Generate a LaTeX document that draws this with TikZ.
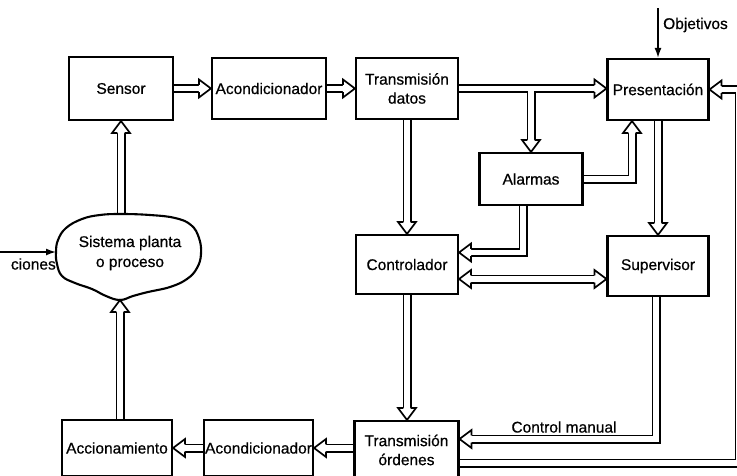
\documentclass[tikz,border=0pt]{standalone}
\usepackage{fontspec}
\setmainfont{Liberation Sans}[FakeBold=0.6]
\usetikzlibrary{arrows.meta,calc}
\pgfdeclarelayer{bg}
\pgfsetlayers{bg,main}
\newcommand\allpipes{%
 \draw[pp,shorten >=8pt] (sensor.east) -- (acA.west);
 \draw[pp,shorten >=8pt] (acA.east) -- (tdat.west);
 \draw[pp,shorten >=8pt] (tdat.east) -- (tdat.east -| pres.west);
 \draw[pp,shorten >=8pt] (alar.north |- tdat.east) -- (alar.north);
 \draw[pp,shorten >=8pt] (alar.east) -| ($(pres.south)+(-26,0)$);
 \draw[pp,shorten >=8pt] (pres.south) -- (pres.south |- sup.north);
 \draw[pp,shorten >=8pt] (tdat.south) -- (ctrl.north);
 \draw[pp,shorten >=8pt] ($(alar.south)+(-8,0)$) |- ($(ctrl.east)+(0,-12)$);
 \draw[pp,shorten >=8pt,shorten <=8pt] ($(ctrl.east)+(0,14.5)$) -- ($(sup.west |- ctrl.east)+(0,14.5)$);
 \draw[pp,shorten >=8pt] (ctrl.south) -- (ctrl.south |- tord.north);
 \draw[pp,shorten >=8pt] ($(sup.south)+(-2,0)$) |- ($(tord.east)+(0,-11)$);
 \draw[pp,shorten >=8pt] ($(tord.east)+(0,13)$) -| ($(pres.east)+(29.5,0)$) -- (pres.east);
 \draw[pp,shorten >=8pt] (tord.west |- acB.east) -- (acB.east);
 \draw[pp,shorten >=8pt] (acB.west) -- (acc.east);
 \draw[pp,shorten >=8pt] ($(acc.north)+(3,0)$) -- (cloudS);
 \draw[pp,shorten >=8pt] (cloudN) -- (sensor.south);
}
\begin{document}
\begin{tikzpicture}[x=1pt,y=-1pt,
  box/.style={draw,line width=2.1pt,inner sep=0pt,align=center,font=\fontsize{15.5}{19}\selectfont},
  lbl/.style={inner sep=0pt,font=\fontsize{15.5}{18}\selectfont},
  sig/.style={line width=1.6pt,-{Latex[length=10pt,width=7pt]}},
  hd/.pic={\fill[white] (-12,-9) -- (0,0) -- (-12,9) -- cycle;
           \draw[line width=1.7pt,line join=miter] (-12,-3.6) -- (-12,-9) -- (0,0) -- (-12,9) -- (-12,3.6);}
]
\useasboundingbox (0,0) rectangle (737,475);
\clip (0,0) rectangle (737,475);

% boxes
\node[box,minimum width=104pt,minimum height=63pt] (sensor) at (121,88.5) {Sensor};
\node[box,minimum width=114pt,minimum height=61pt] (acA) at (269,88.5) {Acondicionador};
\node[box,minimum width=102pt,minimum height=61pt] (tdat) at (407,88.5) {Transmisión\\datos};
\node[box,minimum width=101pt,minimum height=61pt] (pres) at (658,89.5) {Presentación};
\node[box,minimum width=103pt,minimum height=52pt] (alar) at (531,179) {Alarmas};
\node[box,minimum width=102pt,minimum height=59pt] (ctrl) at (407,264.5) {Controlador};
\node[box,minimum width=101pt,minimum height=60pt] (sup) at (658,266) {Supervisor};
\node[box,minimum width=104pt,minimum height=58pt] (tord) at (406.5,450) {Transmisión\\órdenes};
\node[box,minimum width=109pt,minimum height=56pt] (acB) at (258.5,448) {Acondicionador};
\node[box,minimum width=110pt,minimum height=56pt] (acc) at (117,448) {Accionamiento};

% cloud
\coordinate (cloudN) at (121,214);
\coordinate (cloudS) at (120,300);
\coordinate (cloudW) at (56,252);
\draw[line width=2.1pt] plot[smooth cycle,tension=0.7] coordinates {
 (121,214) (150,215) (175,218) (191,225) (199,238) (201,254) (197,268) (187,279)
 (170,287) (148,292) (133,296) (120,300) (106,296) (92,289) (75,283) (62,276)
 (57,264) (56,252) (58,240) (66,228) (82,219) (100,215)};
\node[align=center,inner sep=0pt,font=\fontsize{15.5}{20}\selectfont] (cloud) at (130,253) {Sistema planta\\o proceso};

% signal arrows and labels
\coordinate (inL) at (0,252);
\draw[sig] (inL) -- (cloudW);
\node[lbl,anchor=east] (cionl) at (56,264) {ciones};
\coordinate (objT) at (658,8);
\draw[sig] (objT) -- (pres.north);
\node[lbl,anchor=west] (objl) at (663,25) {Objetivos};
\node[lbl] (cml) at (564,427) {Control manual};

% hollow double-line connectors
\begin{pgfonlayer}{bg}
 \tikzset{pp/.style={line width=9pt,line join=miter}}
 \allpipes
 \tikzset{pp/.style={white,line width=5.4pt,line join=miter}}
 \allpipes
 \pic at (acA.west) {hd};
 \pic at (tdat.west) {hd};
 \pic at (tdat.east -| pres.west) {hd};
 \pic[rotate=-90] at (alar.north) {hd};
 \pic[rotate=90] at ($(pres.south)+(-26,0)$) {hd};
 \pic[rotate=-90] at (pres.south |- sup.north) {hd};
 \pic[rotate=-90] at (ctrl.north) {hd};
 \pic[rotate=180] at ($(ctrl.east)+(0,-12)$) {hd};
 \pic[rotate=180] at ($(ctrl.east)+(0,14.5)$) {hd};
 \pic at ($(sup.west |- ctrl.east)+(0,14.5)$) {hd};
 \pic[rotate=-90] at (ctrl.south |- tord.north) {hd};
 \pic[rotate=180] at ($(tord.east)+(0,-11)$) {hd};
 \pic[rotate=180] at (pres.east) {hd};
 \pic[rotate=180] at (acB.east) {hd};
 \pic[rotate=180] at (acc.east) {hd};
 \pic[rotate=90] at (cloudS) {hd};
 \pic[rotate=90] at (sensor.south) {hd};
\end{pgfonlayer}
\end{tikzpicture}
\end{document}
